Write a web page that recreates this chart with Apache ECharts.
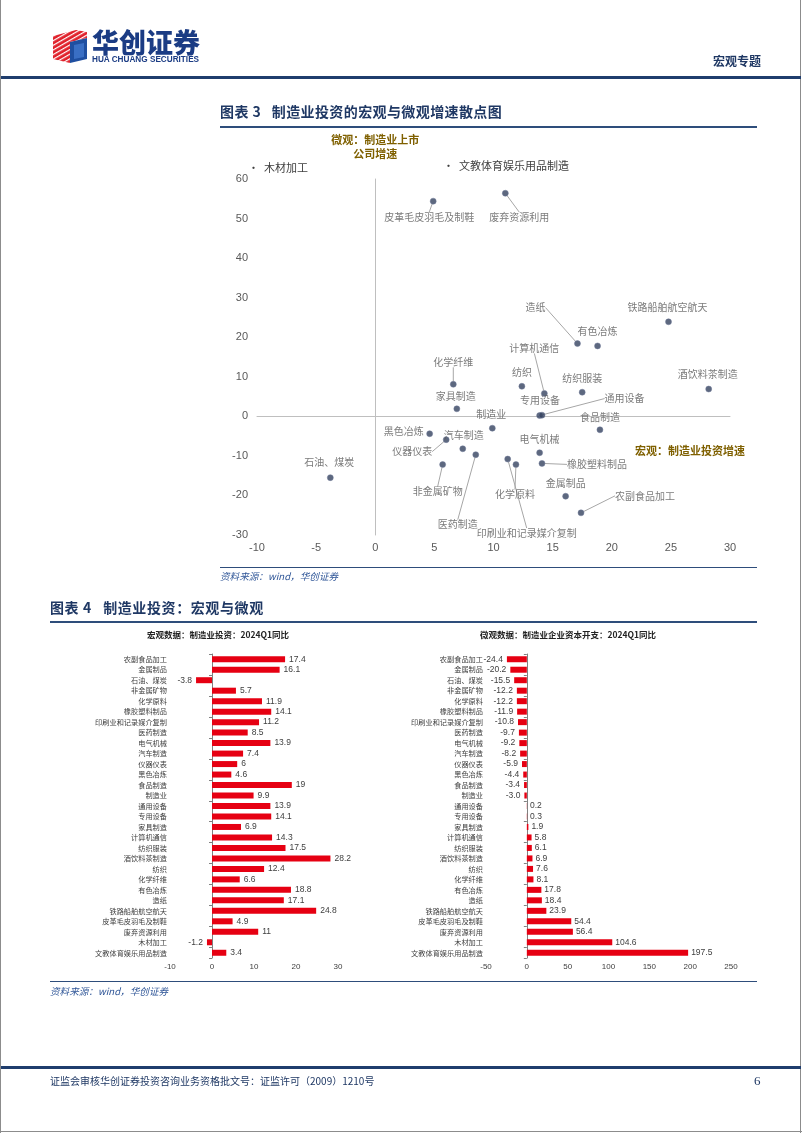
<!DOCTYPE html>
<html>
<head>
<meta charset="utf-8">
<script src="https://cdn.jsdelivr.net/npm/echarts@6/dist/echarts.min.js"></script>
<style>
html,body{margin:0;padding:0;background:#fff;}
#page{position:relative;width:802px;height:1133px;overflow:hidden;font-family:'Noto Sans CJK SC',sans-serif;background:#fff;}
#chart{position:absolute;left:0;top:0;width:802px;height:1133px;}
.t{position:absolute;white-space:nowrap;line-height:1;}
.ln{position:absolute;}
</style>
</head>
<body>
<div id="page">
  <div id="chart"></div>
  <!-- page border -->
  <div class="ln" style="left:0;top:0;width:1px;height:1133px;background:#8c8c8c"></div>
  <div class="ln" style="left:800px;top:0;width:1px;height:1133px;background:#8c8c8c"></div>
  <div class="ln" style="left:0;top:1131px;width:802px;height:1px;background:#8c8c8c"></div>
  <!-- logo -->
  <svg class="ln" style="left:50px;top:28px" width="40" height="38" viewBox="0 0 40 38">
    <defs>
      <pattern id="st" width="4" height="4" patternUnits="userSpaceOnUse" patternTransform="rotate(-30)">
        <rect width="4" height="4" fill="#e0202a"/>
        <rect width="4" height="1.2" fill="#ffffff"/>
      </pattern>
    </defs>
    <polygon points="3,8 26,2 37,4 37,10 20,14 20,35 3,31" fill="url(#st)"/>
    <polygon points="20,14 37,10 37,31 20,35" fill="#1f4fa0"/>
    <polygon points="24,17 34,15 34,29 24,31" fill="#3a6fc4"/>
  </svg>
  <div class="t" style="left:92px;top:28px;font-size:27px;font-weight:900;color:#1b3c84;letter-spacing:0px">华创证券</div>
  <div class="t" style="left:92px;top:56px;font-size:8.2px;font-weight:bold;color:#1b3c84;font-family:'Liberation Sans',sans-serif;letter-spacing:0px">HUA CHUANG SECURITIES</div>
  <div class="t" style="left:713px;top:55px;font-size:12px;font-weight:bold;color:#1f3864">宏观专题</div>
  <div class="ln" style="left:1px;top:76px;width:800px;height:2.5px;background:#1f3d6d"></div>

  <!-- figure 3 -->
  <div class="t" style="left:220px;top:104px;font-size:14px;font-weight:bold;color:#1f3864;letter-spacing:0.4px">图表 3&nbsp;&nbsp;&nbsp;制造业投资的宏观与微观增速散点图</div>
  <div class="ln" style="left:220px;top:126px;width:537px;height:1.5px;background:#2e4d7b"></div>
  <div class="ln" style="left:220px;top:567px;width:537px;height:1px;background:#2e4d7b"></div>
  <div class="t" style="left:220px;top:572px;font-size:9.6px;font-style:italic;color:#2e5597">资料来源：wind，华创证券</div>

  <!-- figure 4 -->
  <div class="t" style="left:50px;top:600px;font-size:14px;font-weight:bold;color:#1f3864;letter-spacing:0.6px">图表 4&nbsp;&nbsp;&nbsp;制造业投资：宏观与微观</div>
  <div class="ln" style="left:50px;top:621px;width:707px;height:1.5px;background:#2e4d7b"></div>
  <div class="t" style="left:218px;top:630px;transform:translateX(-50%);font-size:8.5px;font-weight:bold;color:#222">宏观数据：制造业投资：2024Q1同比</div>
  <div class="t" style="left:568px;top:630px;transform:translateX(-50%);font-size:8.5px;font-weight:bold;color:#222">微观数据：制造业企业资本开支：2024Q1同比</div>
  <div class="ln" style="left:50px;top:981px;width:707px;height:1px;background:#2e4d7b"></div>
  <div class="t" style="left:50px;top:987px;font-size:9.6px;font-style:italic;color:#2e5597">资料来源：wind，华创证券</div>

  <!-- footer -->
  <div class="ln" style="left:1px;top:1066px;width:800px;height:2.5px;background:#1f3d6d"></div>
  <div class="t" style="left:50px;top:1076px;font-size:10px;color:#1f3864">证监会审核华创证券投资咨询业务资格批文号：证监许可（2009）1210号</div>
  <div class="t" style="left:754px;top:1074px;font-size:13px;color:#1f3864;font-family:'Liberation Serif',serif">6</div>
</div>
<script>
// ---------------- data ----------------
const categories = ['农副食品加工','金属制品','石油、煤炭','非金属矿物','化学原料','橡胶塑料制品','印刷业和记录媒介复制','医药制造','电气机械','汽车制造','仪器仪表','黑色冶炼','食品制造','制造业','通用设备','专用设备','家具制造','计算机通信','纺织服装','酒饮料茶制造','纺织','化学纤维','有色冶炼','造纸','铁路船舶航空航天','皮革毛皮羽毛及制鞋','废弃资源利用','木材加工','文教体育娱乐用品制造'];
const macroValues = [17.4,16.1,-3.8,5.7,11.9,14.1,11.2,8.5,13.9,7.4,6,4.6,19,9.9,13.9,14.1,6.9,14.3,17.5,28.2,12.4,6.6,18.8,17.1,24.8,4.9,11,-1.2,3.4];
const microValues = [-24.4,-20.2,-15.5,-12.2,-12.2,-11.9,-10.8,-9.7,-9.2,-8.2,-5.9,-4.4,-3.4,-3.0,0.2,0.3,1.9,5.8,6.1,6.9,7.6,8.1,17.8,18.4,23.9,54.4,56.4,104.6,197.5];
const scatterXTicks = {min:-10, max:30, interval:5};
const scatterYTicks = {min:-30, max:60, interval:10};
const macroTicks = {min:-10, max:30, interval:10};
const microTicks = {min:-50, max:250, interval:50};

// ---------------- styles ----------------
const FONT = "'Noto Sans CJK SC', sans-serif";
// label offsets [dx, dy, leaderLine]
const LABEL_OFFSETS = {
  '皮革毛皮羽毛及制鞋':[-4,16,true], '废弃资源利用':[14,24,true], '造纸':[-42,-36,true],
  '有色冶炼':[0,-15,false], '铁路船舶航空航天':[-1,-15,false], '计算机通信':[-10,-45,true],
  '纺织':[0,-14,false], '纺织服装':[0,-14,false], '酒饮料茶制造':[-1,-15,false],
  '专用设备':[-2,-15,false], '通用设备':[85,-17,true], '食品制造':[0,-13,false],
  '制造业':[-1,-14,false], '化学纤维':[0,-22,true], '家具制造':[-1,-13,false],
  '黑色冶炼':[-26,-3,false], '汽车制造':[1,-14,false], '仪器仪表':[-34,12,true],
  '石油、煤炭':[-1,-15,false], '非金属矿物':[-5,27,true], '医药制造':[-18,70,true],
  '化学原料':[-1,30,true], '印刷业和记录媒介复制':[19,74,true], '电气机械':[0,-14,false],
  '橡胶塑料制品':[55,1,true], '金属制品':[0,-13,false], '农副食品加工':[64,-17,true]
};
const OUTLIER_POS = [[248,169],[443,167]];

const allPts = categories.map((c,i)=>({name:c, value:[macroValues[i], microValues[i]]}));
const inRange = p => p.value[1] <= scatterYTicks.max && p.value[0] >= scatterXTicks.min && p.value[0] <= scatterXTicks.max;
const scatterPts = allPts.filter(inRange).map(p => {
  const o = LABEL_OFFSETS[p.name] || [0,-14,false];
  return {name:p.name, value:p.value, labelLine:{show:o[2]}};
});
const outliers = allPts.filter(p => !inRange(p));

const chart = echarts.init(document.getElementById('chart'), null, {renderer:'canvas'});
const catAxisLabel = {fontSize:7.2, color:'#404040', fontFamily:FONT, margin:3};
const barLabel = {show:true, fontSize:8.5, color:'#404040', distance:4, fontFamily:"'Liberation Sans', sans-serif"};

const option = {
  backgroundColor:'transparent',
  animation:false,
  textStyle:{fontFamily:FONT},
  grid:[
    {left:257, right:72, top:179, bottom:598},
    {left:170, right:464, top:654, bottom:175},
    {left:486, right:71, top:654, bottom:175}
  ],
  xAxis:[
    {gridIndex:0, type:'value', min:scatterXTicks.min, max:scatterXTicks.max, interval:scatterXTicks.interval,
     axisLine:{onZero:true, lineStyle:{color:'#bfbfbf', width:1}}, axisTick:{show:false}, splitLine:{show:false},
     axisLabel:{color:'#595959', fontSize:11, margin:7, fontFamily:"'Liberation Sans', sans-serif"}},
    {gridIndex:1, type:'value', min:macroTicks.min, max:macroTicks.max, interval:macroTicks.interval,
     axisLine:{show:false}, axisTick:{show:false}, splitLine:{show:false},
     axisLabel:{fontSize:8, color:'#404040', margin:5, fontFamily:"'Liberation Sans', sans-serif"}},
    {gridIndex:2, type:'value', min:microTicks.min, max:microTicks.max, interval:microTicks.interval,
     axisLine:{show:false}, axisTick:{show:false}, splitLine:{show:false},
     axisLabel:{fontSize:8, color:'#404040', margin:5, fontFamily:"'Liberation Sans', sans-serif"}}
  ],
  yAxis:[
    {gridIndex:0, type:'value', min:scatterYTicks.min, max:scatterYTicks.max, interval:scatterYTicks.interval,
     name:'微观：制造业上市\n公司增速', nameLocation:'end', nameGap:18,
     nameTextStyle:{color:'#7f6000', fontWeight:'bold', fontSize:11, lineHeight:14, align:'center'},
     axisLine:{onZero:true, lineStyle:{color:'#bfbfbf', width:1}}, axisTick:{show:false}, splitLine:{show:false},
     axisLabel:{color:'#595959', fontSize:11, margin:9, fontFamily:"'Liberation Sans', sans-serif"}},
    {gridIndex:1, type:'category', data:categories, inverse:true, position:'left',
     axisLine:{show:false, onZero:false}, axisTick:{show:false}, axisLabel:catAxisLabel},
    {gridIndex:1, type:'category', data:categories, inverse:true, position:'left',
     axisLine:{show:true, onZero:true, lineStyle:{color:'#808080'}}, axisTick:{show:true, length:3, lineStyle:{color:'#808080'}},
     axisLabel:{show:false}},
    {gridIndex:2, type:'category', data:categories, inverse:true, position:'left',
     axisLine:{show:false, onZero:false}, axisTick:{show:false}, axisLabel:catAxisLabel},
    {gridIndex:2, type:'category', data:categories, inverse:true, position:'left',
     axisLine:{show:true, onZero:true, lineStyle:{color:'#808080'}}, axisTick:{show:true, length:3, lineStyle:{color:'#808080'}},
     axisLabel:{show:false}}
  ],
  series:[
    {type:'scatter', xAxisIndex:0, yAxisIndex:0, symbolSize:6,
     itemStyle:{color:'#35425f', borderColor:'#6b7796', borderWidth:0.6},
     label:{show:true, formatter:'{b}', fontSize:10, color:'#595959', fontFamily:FONT},
     labelLine:{show:false, lineStyle:{color:'#a6a6a6', width:1}},
     labelLayout:function(p){
       const o = LABEL_OFFSETS[scatterPts[p.dataIndex].name] || [0,-14];
       return {x:p.rect.x + p.rect.width/2 + o[0], y:p.rect.y + p.rect.height/2 + o[1], align:'center', verticalAlign:'middle'};
     },
     data:scatterPts},
    {type:'bar', xAxisIndex:1, yAxisIndex:2, barWidth:6, itemStyle:{color:'#e60012'},
     label:Object.assign({}, barLabel, {formatter:p=>String(p.value)}),
     data:macroValues.map(v=>({value:v, label:{position:v<0?'left':'right'}}))},
    {type:'bar', xAxisIndex:2, yAxisIndex:4, barWidth:6, itemStyle:{color:'#e60012'},
     label:Object.assign({}, barLabel, {distance:3, formatter:p=>p.value.toFixed(1)}),
     data:microValues.map(v=>({value:v, label:{position:v<0?'left':'right', distance:v<0?4:3}}))}
  ],
  graphic:[
    ...outliers.map((p,i)=>({type:'text', left:OUTLIER_POS[i][0], top:OUTLIER_POS[i][1]-7,
      style:{text:'•  ' + p.name, fontSize:11, fill:'#404040', fontFamily:FONT}})),
    {type:'text', left:635, top:445, style:{text:'宏观：制造业投资增速', fontSize:11, fontWeight:'bold', fill:'#7f6000', fontFamily:FONT}}
  ]
};
chart.setOption(option);
</script>
</body>
</html>
